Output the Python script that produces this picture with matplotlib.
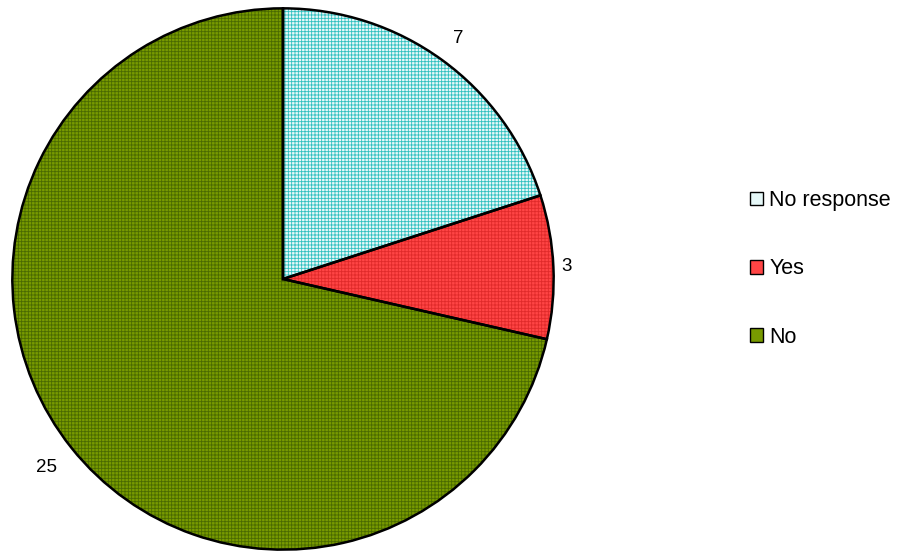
import matplotlib
matplotlib.use("Agg")
import matplotlib.pyplot as plt
import numpy as np
from matplotlib.patches import Patch

labels = ["No response", "Yes", "No"]
counts = [7, 3, 25]

face_colors = ["#e6f8f8", "#ff4545", "#789a00"]
hatch_colors = ["#30c0c0", "#e02a2a", "#4a6a00"]
# how far out each value label sits (fraction of radius)
label_dist = [1.10, 1.05, 1.12]

plt.rcParams["font.family"] = ["Liberation Sans", "DejaVu Sans"]
plt.rcParams["hatch.linewidth"] = 0.6

fig = plt.figure(figsize=(9.05, 5.51), dpi=100)
# pie sits on the left, centre ~ (283, 279) px, radius ~ 271 px
ax = fig.add_axes([11 / 905, 0, 544 / 905, 544 / 551])

# fill + hatch layer (hatch colour follows edgecolor)
wedges, texts = ax.pie(counts, startangle=90, counterclock=False,
                       colors=face_colors, labels=[str(c) for c in counts],
                       labeldistance=1.1,
                       textprops={"fontsize": 13.5},
                       wedgeprops={"linewidth": 0})
for w, hc in zip(wedges, hatch_colors):
    w.set_hatch("+" * 5)
    w.set_edgecolor(hc)
    w.set_linewidth(0)
for w, t, d in zip(wedges, texts, label_dist):
    mid = np.deg2rad((w.theta1 + w.theta2) / 2)
    t.set_position((d * np.cos(mid), d * np.sin(mid)))
    t.set_ha("center")
    t.set_va("center")

# black outline layer
ax.pie(counts, startangle=90, counterclock=False,
       colors=["none"] * 3,
       wedgeprops={"linewidth": 1.8, "edgecolor": "black", "fill": False})

ax.set_xlim(-1.005, 1.005)
ax.set_ylim(-1.005, 1.005)
ax.set_aspect("equal")
ax.axis("off")

handles = []
for fc, hc in zip(face_colors, hatch_colors):
    handles.append(Patch(facecolor=fc, edgecolor="black", linewidth=1.0))
leg = fig.legend(handles, labels, loc="center left",
                 bbox_to_anchor=(750 / 905, 1 - 269 / 551),
                 frameon=False, fontsize=15.5,
                 handlelength=0.6, handleheight=0.6, handletextpad=0.3,
                 labelspacing=2.2, borderpad=0, borderaxespad=0)

fig.savefig("out.png", dpi=100)
